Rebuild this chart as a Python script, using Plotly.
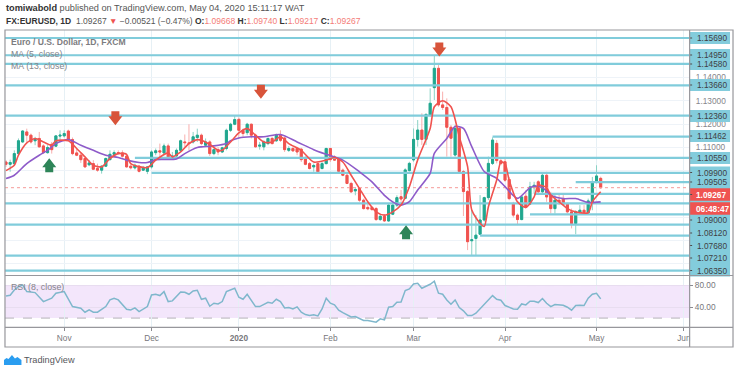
import plotly.graph_objects as go

# ---- data -------------------------------------------------------------
OPEN = [1.1037,1.1027,1.1030,1.1073,1.1123,1.1166,1.1152,1.1128,1.1138,1.1106,
1.1077,1.1113,1.1105,1.1148,1.1149,1.1170,1.1133,1.1076,1.1066,1.1052,
1.1025,1.1030,1.1009,1.1002,1.1019,1.1047,1.1070,1.1077,1.1076,1.1062,
1.1019,1.1012,1.1019,1.1002,1.0997,1.1016,1.1077,1.1085,1.1076,1.1106,
1.1056,1.1063,1.1087,1.1123,1.1119,1.1123,1.1142,1.1152,1.1109,1.1123,
1.1073,1.1090,1.1080,1.1095,1.1173,1.1199,1.1220,1.1173,1.1163,1.1199,
1.1152,1.1105,1.1102,1.1116,1.1138,1.1128,1.1152,1.1140,1.1087,1.1095,
1.1095,1.1092,1.1056,1.1030,1.1016,1.1030,1.1009,1.1030,1.1095,1.1059,
1.1052,1.1002,1.0980,1.0945,1.0913,1.0923,1.0873,1.0842,1.0842,1.0837,
1.0790,1.0804,1.0784,1.0813,1.0852,1.0888,1.0881,1.1000,1.1046,1.1134,
1.1174,1.1134,1.1238,1.1356,1.1439,1.1282,1.1271,1.1186,1.1067,1.1181,
1.0996,1.0910,1.0699,1.0709,1.0727,1.0788,1.0884,1.1031,1.1117,1.1042,
1.1038,1.0962,1.0856,1.0809,1.0790,1.0890,1.0856,1.0927,1.0952,1.0909,
1.0980,1.0895,1.0837,1.0873,1.0880,1.0856,1.0823,1.0773,1.0820,1.0830,
1.0819,1.0866,1.0952,1.09668]
CLOSE = [1.1027,1.1035,1.1073,1.1128,1.1170,1.1152,1.1123,1.1133,1.1102,1.1077,
1.1099,1.1090,1.1149,1.1152,1.1159,1.1133,1.1073,1.1066,1.1047,1.1016,
1.1033,1.1006,1.1002,1.1019,1.1052,1.1070,1.1077,1.1075,1.1062,1.1016,
1.1012,1.1023,1.0997,1.1012,1.1016,1.1080,1.1085,1.1080,1.1106,1.1059,
1.1063,1.1087,1.1128,1.1120,1.1116,1.1145,1.1152,1.1116,1.1123,1.1073,
1.1090,1.1080,1.1098,1.1173,1.1199,1.1219,1.1173,1.1159,1.1199,1.1152,
1.1102,1.1109,1.1123,1.1138,1.1116,1.1152,1.1130,1.1090,1.1095,1.1085,
1.1080,1.1047,1.1027,1.1009,1.1022,1.0995,1.1030,1.1095,1.1047,1.1045,
1.0997,1.0980,1.0945,1.0909,1.0919,1.0873,1.0837,1.0836,1.0833,1.0790,
1.0804,1.0784,1.0852,1.0852,1.0884,1.0878,1.1003,1.1031,1.1134,1.1174,
1.1134,1.1241,1.1289,1.1439,1.1282,1.1271,1.1186,1.1139,1.1181,1.0996,
1.0910,1.0695,1.0703,1.0723,1.0788,1.0884,1.1031,1.1131,1.1043,1.1030,
1.0959,1.0880,1.0809,1.0790,1.0887,1.0842,1.0930,1.0937,1.0909,1.0980,
1.0887,1.0837,1.0873,1.0866,1.0856,1.0823,1.0773,1.0823,1.0830,1.0819,
1.0870,1.0952,1.0977,1.09267]
HIGH = [1.1045,1.1047,1.1087,1.1138,1.1173,1.1180,1.1159,1.1145,1.1166,1.1113,
1.1109,1.1123,1.1152,1.1173,1.1173,1.1176,1.1142,1.1095,1.1080,1.1056,
1.1045,1.1045,1.1030,1.1023,1.1056,1.1087,1.1087,1.1087,1.1087,1.1073,
1.1027,1.1030,1.1023,1.1020,1.1019,1.1087,1.1095,1.1116,1.1116,1.1116,
1.1080,1.1095,1.1133,1.1155,1.1199,1.1166,1.1180,1.1159,1.1138,1.1130,
1.1095,1.1102,1.1102,1.1180,1.1205,1.1238,1.1228,1.1180,1.1205,1.1202,
1.1159,1.1123,1.1130,1.1142,1.1145,1.1159,1.1173,1.1145,1.1105,1.1102,
1.1102,1.1098,1.1062,1.1037,1.1030,1.1037,1.1037,1.1098,1.1098,1.1066,
1.1056,1.1009,1.0985,1.0952,1.0927,1.0927,1.0880,1.0866,1.0847,1.0844,
1.0813,1.0813,1.0856,1.0866,1.0894,1.0917,1.1010,1.1038,1.1181,1.1217,
1.1246,1.1246,1.1353,1.1496,1.1453,1.1339,1.1310,1.1196,1.1196,1.1191,
1.1003,1.0917,1.0831,1.0809,1.0895,1.0888,1.1060,1.1143,1.1131,1.1052,
1.1052,1.0973,1.0866,1.0816,1.0895,1.0916,1.0952,1.0952,1.0959,1.0987,
1.0995,1.0909,1.0902,1.0902,1.0895,1.0862,1.0837,1.0830,1.0852,1.0852,
1.0880,1.0973,1.1023,1.09740]
LOW = [1.1016,1.0995,1.1023,1.1066,1.1119,1.1123,1.1116,1.1109,1.1099,1.1073,
1.1073,1.1073,1.1102,1.1123,1.1142,1.1130,1.1066,1.1062,1.1033,1.1013,
1.1019,1.1002,1.0995,1.0987,1.1016,1.1045,1.1066,1.1069,1.1056,1.1013,
1.1005,1.1005,1.0992,1.0999,1.0985,1.1009,1.1066,1.1056,1.1066,1.1047,
1.1047,1.1056,1.1080,1.1102,1.1087,1.1116,1.1123,1.1109,1.1102,1.1063,
1.1066,1.1066,1.1076,1.1087,1.1166,1.1195,1.1138,1.1145,1.1152,1.1138,
1.1099,1.1090,1.1087,1.1109,1.1112,1.1123,1.1123,1.1080,1.1080,1.1080,
1.1066,1.1037,1.1023,1.1005,1.0995,1.0990,1.1005,1.1027,1.1037,1.1042,
1.0993,1.0976,1.0942,1.0904,1.0894,1.0866,1.0833,1.0830,1.0827,1.0784,
1.0784,1.0780,1.0780,1.0809,1.0844,1.0860,1.0877,1.0996,1.1038,1.1103,
1.1110,1.1110,1.1232,1.1303,1.1274,1.1260,1.1060,1.1060,1.1060,1.0988,
1.0805,1.0659,1.0638,1.0638,1.0724,1.0781,1.0874,1.1024,1.1031,1.1023,
1.0952,1.0873,1.0799,1.0766,1.0787,1.0837,1.0852,1.0902,1.0895,1.0902,
1.0866,1.0816,1.0816,1.0852,1.0852,1.0816,1.0752,1.0727,1.0816,1.0813,
1.0813,1.0830,1.0945,1.09217]
BARS = list(range(len(CLOSE)))

MA13_BARS = [0,2,5,8,10,12,15,18,21,24,27,29,32,34,36,41,43,46,47,50,53,54,56,59,62,66,70,74,77,81,85,88,91,93,
             95,97,99,102,103,106,108,110,112,115,118,120,123,126,127,129,131,134,137,140,143]
MA13 = [1.0966,1.0980,1.1030,1.1066,1.1087,1.1116,1.1133,1.1109,1.1087,1.1066,1.1056,1.1045,1.1035,1.1035,1.1047,1.1050,1.1073,1.1099,
        1.1102,1.1106,1.1116,1.1128,1.1140,1.1145,1.1145,1.1155,1.1123,1.1090,1.1070,1.1045,1.0995,1.0952,1.0894,1.0866,
        1.0852,1.0867,1.0917,1.0988,1.1074,1.1138,1.1189,1.1181,1.1103,1.0996,1.0967,1.0931,1.0881,1.0927,1.0933,1.0927,1.0895,1.0880,1.0880,1.0863,1.0866]
MA5_BARS = [0,2,3,5,7,9,11,12,15,17,19,21,23,25,27,29,30,34,36,39,40,42,44,46,47,49,51,52,54,56,58,60,62,64,66,68,71,74,77,79,81,83,85,87,89,91,93,
            95,97,99,102,103,105,107,109,111,112,114,115,116,118,119,120,121,123,125,127,128,130,131,133,135,137,140,141,143]
MA5 = [1.1000,1.1023,1.1066,1.1119,1.1138,1.1123,1.1109,1.1128,1.1128,1.1095,1.1059,1.1023,1.1016,1.1052,1.1073,1.1070,1.1030,1.1013,1.1045,1.1076,1.1059,1.1080,1.1116,1.1133,
       1.1130,1.1112,1.1087,1.1087,1.1123,1.1162,1.1180,1.1152,1.1123,1.1123,1.1145,1.1116,1.1087,1.1037,1.1045,1.1056,1.1037,1.0980,1.0923,1.0866,1.0823,1.0809,1.0823,
       1.0852,1.0931,1.1046,1.1181,1.1274,1.1300,1.1274,1.1146,1.1017,1.0831,1.0774,1.0760,1.0845,1.0960,1.1038,1.1030,1.0959,1.0866,1.0842,1.0887,1.0937,1.0927,1.0895,1.0866,1.0837,1.0823,1.0819,1.0866,1.0909]

RSI_BARS = [0,1,2,3,4,5,7,9,11,12,14,16,18,19,20,21,22,24,25,26,27,29,30,31,32,34,35,36,37,38,39,40,42,43,44,45,46,47,48,49,50,51,52,53,55,56,57,58,60,61,63,64,65,66,67,68,69,70,71,72,73,74,75,76,77,78,79,80,81,83,84,85,86,
            87,89,90,91,92,93,94,95,96,97,98,99,100,102,103,104,105,106,107,108,109,110,111,112,113,114,116,117,118,119,120,122,123,124,125,126,127,128,129,130,131,132,134,135,136,137,138,139,140,141,142,143]
RSI = [60.9,62.1,71.9,78.0,81.1,68.8,67.0,50.4,56.6,65.8,68.8,41.2,38.2,30.8,35.1,30.8,30.8,41.2,53.5,56.6,53.5,36.3,35.1,38.8,32.0,41.2,62.7,63.9,61.5,68.8,50.4,51.7,68.2,67.6,63.9,70.1,71.3,54.7,56.6,41.8,47.4,46.1,50.4,68.8,75.0,58.4,54.7,63.9,41.2,41.2,49.2,47.4,54.7,50.4,38.8,39.4,36.9,40.6,30.8,26.5,24.7,25.9,24.0,36.9,56.6,47.4,44.3,34.5,30.2,22.2,22.8,18.5,15.5,
       15.5,12.4,18.5,16.7,40.0,41.2,49.2,49.8,70.7,73.7,82.9,84.2,75.0,82.3,87.9,65.8,63.9,53.5,45.5,53.5,39.4,33.3,24.7,24.7,29.0,36.9,53.5,61.5,54.7,52.9,43.1,36.9,36.3,46.1,44.3,51.0,51.0,48.6,56.0,47.4,41.2,44.9,43.7,40.0,34.5,43.1,43.7,43.1,56.6,63.9,65.8,55.3]

LEVEL_PRICES = [1.1569,1.1495,1.1458,1.1366,1.1236,1.11462,1.1055,1.0990,1.09505,1.0900,1.0859,1.0812,1.0768,1.0721,1.0635,1.0571]
LEVEL_START_BARS = [0,0,0,0,0,117,31,35,137,127,0,126,0,114,0,0]

LAST_PRICE = 1.09267
ARROW_DOWN_BARS = [26.3,61.3,104.2]
ARROW_DOWN_PRICES = [1.1225,1.1338,1.1520]
ARROW_UP_BARS = [10.4,96.2]
ARROW_UP_PRICES = [1.1023,1.0736]

GRID_PRICES = [1.06,1.07,1.08,1.09,1.10,1.11,1.12,1.13,1.14,1.15]
GRAY_PRICE_TICKS = {1.11:"1.11000",1.12:"1.12000",1.13:"1.13000",1.14:"1.14000"}
MONTH_BARS = [14,35,56,78,98,120,142,163]
MONTH_LABELS = ["Nov","Dec","<b>2020</b>","Feb","Mar","Apr","May","Jun"]
AXIS_TAGS = ["1.15690","1.14950","1.14580","1.13660","1.12360","1.11462","1.10550","1.09900","1.09505",
             "1.09000","1.08120","1.07680","1.07210","1.06350"]
RED_TAGS = ["1.09267","06:48:47"]

# ---- layout constants --------------------------------------------------
W, H = 740, 373
TAG_Y = [38,55,64,85,116,136,158,172.5,182,220,233,245.5,258,270.5]
RED_TAG_Y = [194.5,208.5]
TEAL, RED = "#22A78F", "#F0534F"
LINE_TEAL = "#80CCDB"
GREY = "#6f7278"
FONT = "Liberation Sans"
px = lambda v: v / W
py = lambda v: 1 - v / H

XR = [-0.24, 164.27]
fig = go.Figure()

for price, start in zip(LEVEL_PRICES, LEVEL_START_BARS):
    fig.add_trace(go.Scatter(x=[XR[0] if start == 0 else start, XR[1]], y=[price, price], mode="lines",
                             line=dict(color=LINE_TEAL, width=2.2), xaxis="x", yaxis="y", hoverinfo="skip"))
fig.add_trace(go.Scatter(x=XR, y=[LAST_PRICE, LAST_PRICE], mode="lines",
                         line=dict(color="#F59A98", width=1, dash="dot"), xaxis="x", yaxis="y", hoverinfo="skip"))

# wicks (paler) then bodies
fig.add_trace(go.Candlestick(x=BARS, open=OPEN, high=HIGH, low=LOW, close=CLOSE, whiskerwidth=0,
    increasing=dict(line=dict(color="#8AD2C5", width=1), fillcolor="#8AD2C5"),
    decreasing=dict(line=dict(color="#F8AFAD", width=1), fillcolor="#F8AFAD"),
    xaxis="x", yaxis="y", hoverinfo="skip"))
BODY_HI = [max(o, c) for o, c in zip(OPEN, CLOSE)]
BODY_LO = [min(o, c) for o, c in zip(OPEN, CLOSE)]
fig.add_trace(go.Candlestick(x=BARS, open=OPEN, high=BODY_HI, low=BODY_LO, close=CLOSE, whiskerwidth=0,
    increasing=dict(line=dict(color=TEAL, width=1), fillcolor=TEAL),
    decreasing=dict(line=dict(color=RED, width=1), fillcolor=RED),
    xaxis="x", yaxis="y", hoverinfo="skip"))

fig.add_trace(go.Scatter(x=MA13_BARS, y=MA13, mode="lines", line=dict(color="#8E5BC9", width=1.6, shape="spline", smoothing=0.7),
                         xaxis="x", yaxis="y", hoverinfo="skip"))
fig.add_trace(go.Scatter(x=MA5_BARS, y=MA5, mode="lines", line=dict(color="#F0534F", width=1.6, shape="spline", smoothing=0.7),
                         xaxis="x", yaxis="y", hoverinfo="skip"))
fig.add_trace(go.Scatter(x=RSI_BARS, y=RSI, mode="lines", line=dict(color="#7FB7CC", width=1.5),
                         xaxis="x2", yaxis="y2", hoverinfo="skip"))

shapes = []
# RSI band
shapes.append(dict(type="rect", xref="x2", yref="y2", x0=XR[0], x1=XR[1], y0=20, y1=80, fillcolor="#F3E6FB", line_width=0, layer="below"))
for lv, dash in ((80, "dash"), (20, "dash")):
    shapes.append(dict(type="line", xref="x2", yref="y2", x0=XR[0], x1=XR[1], y0=lv, y1=lv, line=dict(color="#B5B2B8", width=1, dash=dash), layer="below"))

# signal arrows, anchored in data space and sized in pixels
for b, p in zip(ARROW_DOWN_BARS, ARROW_DOWN_PRICES):
    shapes.append(dict(type="path", xref="x", yref="y", xsizemode="pixel", ysizemode="pixel", xanchor=b, yanchor=p,
                       path="M-4,7 L4,7 L4,2 L7,2 L0,-7 L-7,2 L-4,2 Z", fillcolor="#D8543A", line_width=0))
for b, p in zip(ARROW_UP_BARS, ARROW_UP_PRICES):
    shapes.append(dict(type="path", xref="x", yref="y", xsizemode="pixel", ysizemode="pixel", xanchor=b, yanchor=p,
                       path="M-4,-7 L4,-7 L4,-2 L7,-2 L0,7 L-7,-2 L-4,-2 Z", fillcolor="#2E8558", line_width=0))

# price scale tags
shapes.append(dict(type="rect", xref="paper", yref="paper", x0=px(691.5), x1=px(732), y0=py(275.5), y1=py(176),
                   fillcolor="#83CCDC", line_width=0))
for y in TAG_Y:
    shapes.append(dict(type="rect", xref="paper", yref="paper", x0=px(691.5), x1=px(732), y0=py(y + 6), y1=py(y - 6),
                       fillcolor="#83CCDC", line_width=0))
for y in RED_TAG_Y:
    shapes.append(dict(type="rect", xref="paper", yref="paper", x0=px(691.5), x1=px(732), y0=py(y + 6.3), y1=py(y - 6.3),
                       fillcolor="#EF5350", line_width=0))
for y in TAG_Y + RED_TAG_Y[:1]:
    shapes.append(dict(type="line", xref="paper", yref="paper", x0=px(691), x1=px(694), y0=py(y), y1=py(y), line=dict(color="#4a4a4a", width=1)))

# hide the part of "Jun" running past the price scale
shapes.append(dict(type="rect", xref="paper", yref="paper", x0=px(692), x1=px(734), y0=py(346), y1=py(328.5), fillcolor="white", line_width=0))

# frames
FRAME = "#97979C"
shapes.append(dict(type="rect", xref="paper", yref="paper", x0=px(5), x1=px(735), y0=py(347), y1=py(30), line=dict(color=FRAME, width=1.2)))
for y in (275.5, 327.3):
    shapes.append(dict(type="line", xref="paper", yref="paper", x0=px(5), x1=px(735), y0=py(y), y1=py(y), line=dict(color=FRAME, width=1.2)))
shapes.append(dict(type="line", xref="paper", yref="paper", x0=px(691.5), x1=px(691.5), y0=py(347), y1=py(30), line=dict(color=FRAME, width=1.2)))

# TradingView logo
shapes.append(dict(type="path", xref="paper", yref="paper",
    path=f"M{px(4)},{py(365)} L{px(21.5)},{py(365)} L{px(21.5)},{py(360)} L{px(17.5)},{py(357)} L{px(15)},{py(358.5)} L{px(12)},{py(355)} L{px(8.5)},{py(359)} L{px(6.5)},{py(358)} L{px(4)},{py(360)} Z",
    fillcolor="#2A9DF0", line_width=0))

ann = []
def text(x, y, s, size=10, color=GREY, anchor="left"):
    ann.append(dict(xref="paper", yref="paper", x=px(x), y=py(y), text=s, showarrow=False, xanchor=anchor, yanchor="middle",
                    font=dict(family=FONT, size=size, color=color), align="left", borderpad=0))

text(5, 8, '<b style="color:#333">tomiwabold</b> published on TradingView.com, May 04, 2020 15:11:17 WAT', 9.2, "#555")
sale = "#F47C78"
text(5, 20.5, f'<b style="color:#333">FX:EURUSD, 1D</b>  1.09267 <span style="color:#EF5350">▼</span> −0.00521 (−0.47%) '
     f'<b style="color:#333">O:</b><span style="color:{sale}">1.09668</span> <b style="color:#333">H:</b><span style="color:{sale}">1.09740</span> '
     f'<b style="color:#333">L:</b><span style="color:{sale}">1.09217</span> <b style="color:#333">C:</b><span style="color:{sale}">1.09267</span>', 8.5, "#555")
text(10, 42, "<b>Euro / U.S. Dollar, 1D, FXCM</b>", 8.6, "#7c7c80")
text(10, 54, "MA (5, close)", 8.8, "#85858a")
text(10, 66, "MA (13, close)", 8.8, "#85858a")
text(10, 287, "RSI (8, close)", 8.8, "#85858a")
for lab, y in zip(AXIS_TAGS, TAG_Y):
    text(697.5, y, lab, 8.3, "#3f3f44")
for lab, y in zip(RED_TAGS, RED_TAG_Y):
    text(696.5, y, f"<b>{lab}</b>", 8.3, "white")
text(23.5, 360, "TradingView", 9.2, "#55565b")

GRIDC = "#EEF3F8"
TICK = 8.3
fig.update_layout(
    width=W, height=H, autosize=False, margin=dict(l=0, r=0, t=0, b=0), paper_bgcolor="white", plot_bgcolor="white",
    showlegend=False, shapes=shapes, annotations=ann, hovermode=False,
    xaxis=dict(domain=[px(5), px(691)], range=XR, anchor="y", rangeslider=dict(visible=False), tickvals=MONTH_BARS,
               showticklabels=False, showgrid=True, gridcolor="#E6F0F5", gridwidth=1, ticks="", zeroline=False, showline=False),
    yaxis=dict(domain=[py(275.5), py(30)], range=[1.05499, 1.16034], side="right", anchor="x",
               tickvals=GRID_PRICES, ticktext=[GRAY_PRICE_TICKS.get(g, "") for g in GRID_PRICES],
               tickfont=dict(family=FONT, size=TICK, color="#85858a"), showgrid=True, gridcolor=GRIDC, gridwidth=1,
               ticks="outside", ticklen=4, tickcolor="rgba(0,0,0,0)", zeroline=False, showline=False),
    xaxis2=dict(domain=[px(5), px(691)], range=XR, anchor="y2", tickvals=MONTH_BARS, ticktext=MONTH_LABELS,
                tickfont=dict(family=FONT, size=TICK, color="#77777c"), showgrid=True, gridcolor="#E6F0F5",
                ticks="outside", ticklen=3, tickcolor="#8a8a8f", zeroline=False, showline=False, tickangle=0),
    yaxis2=dict(domain=[py(327.3), py(275.5)], range=[3, 98.5], side="right", anchor="x2", tickvals=[40, 80],
                ticktext=["40.00", "80.00"], tickfont=dict(family=FONT, size=TICK, color="#77777c"),
                showgrid=True, gridcolor="#E8DDF0", ticks="outside", ticklen=3, tickcolor="#8a8a8f", zeroline=False, showline=False),
)
fig.write_html("out.html", config=dict(displayModeBar=False),
               post_script="document.body.style.margin='0';document.documentElement.style.overflow='hidden';")
